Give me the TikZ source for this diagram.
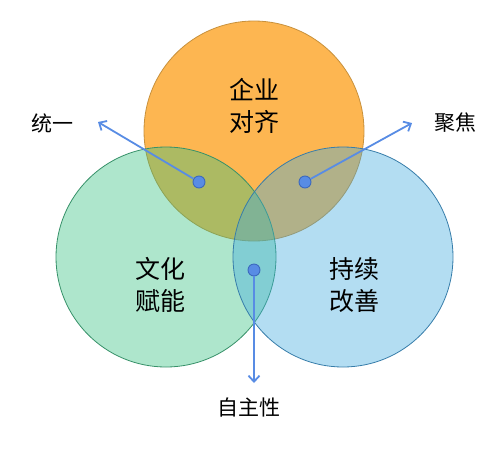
\documentclass[tikz,border=0pt]{standalone}
\usepackage{fontspec}
\newfontfamily\cjk{Noto Sans CJK SC}
\usetikzlibrary{arrows.meta}

\definecolor{orangefill}{RGB}{253,182,81}
\definecolor{orangeedge}{RGB}{200,145,60}
\definecolor{greenfill}{RGB}{52,192,127}
\definecolor{greenedge}{RGB}{55,145,105}
\definecolor{bluefill}{RGB}{65,170,222}
\definecolor{blueedge}{RGB}{55,125,170}
\definecolor{arrowblue}{RGB}{88,140,228}
\definecolor{dotedge}{RGB}{60,105,190}

\begin{document}
\begin{tikzpicture}[x=1pt, y=-1pt,
    ring/.style={circle, minimum size=220pt, inner sep=0pt, line width=0.8pt},
    dot/.style={circle, fill=arrowblue, draw=dotedge, line width=0.9pt, minimum size=12pt, inner sep=0pt},
    pointer/.style={draw=arrowblue, line width=1.8pt, -{Straight Barb[length=6pt, width=11pt]}},
    biglabel/.style={font=\cjk\fontsize{25}{32}\selectfont, align=center},
    sidelabel/.style={font=\cjk\fontsize{21}{25}\selectfont}]
    \useasboundingbox (0,0) rectangle (500,453);

    % 三个圆
    \node[ring, fill=orangefill, draw=orangeedge] (qiye) at (254,131) {};
    \node[ring, fill=greenfill, fill opacity=0.4, draw=greenedge] (wenhua) at (166,257) {};
    \node[ring, fill=bluefill, fill opacity=0.4, draw=blueedge] (chixu) at (343,257) {};

    % 圆内文字
    \node[biglabel] (qiyetext) at (254,106) {企业\\对齐};
    \node[biglabel] (wenhuatext) at (160,285) {文化\\赋能};
    \node[biglabel] (chixutext) at (354,285) {持续\\改善};

    % 交叠处的点
    \node[dot] (leftdot) at (199,182) {};
    \node[dot] (rightdot) at (305,182) {};
    \node[dot] (bottomdot) at (254,270) {};

    % 箭头终点
    \coordinate (lefttip) at (98,122);
    \coordinate (righttip) at (412,123);
    \coordinate (bottomtip) at (254,383);

    \draw[pointer] (leftdot) -- (lefttip);
    \draw[pointer] (rightdot) -- (righttip);
    \draw[pointer] (bottomdot) -- (bottomtip);

    % 外侧标注
    \node[sidelabel] (tongyi) at (52,123) {统一};
    \node[sidelabel] (jujiao) at (455,123) {聚焦};
    \node[sidelabel] (zizhu) at (249,408) {自主性};
\end{tikzpicture}
\end{document}
